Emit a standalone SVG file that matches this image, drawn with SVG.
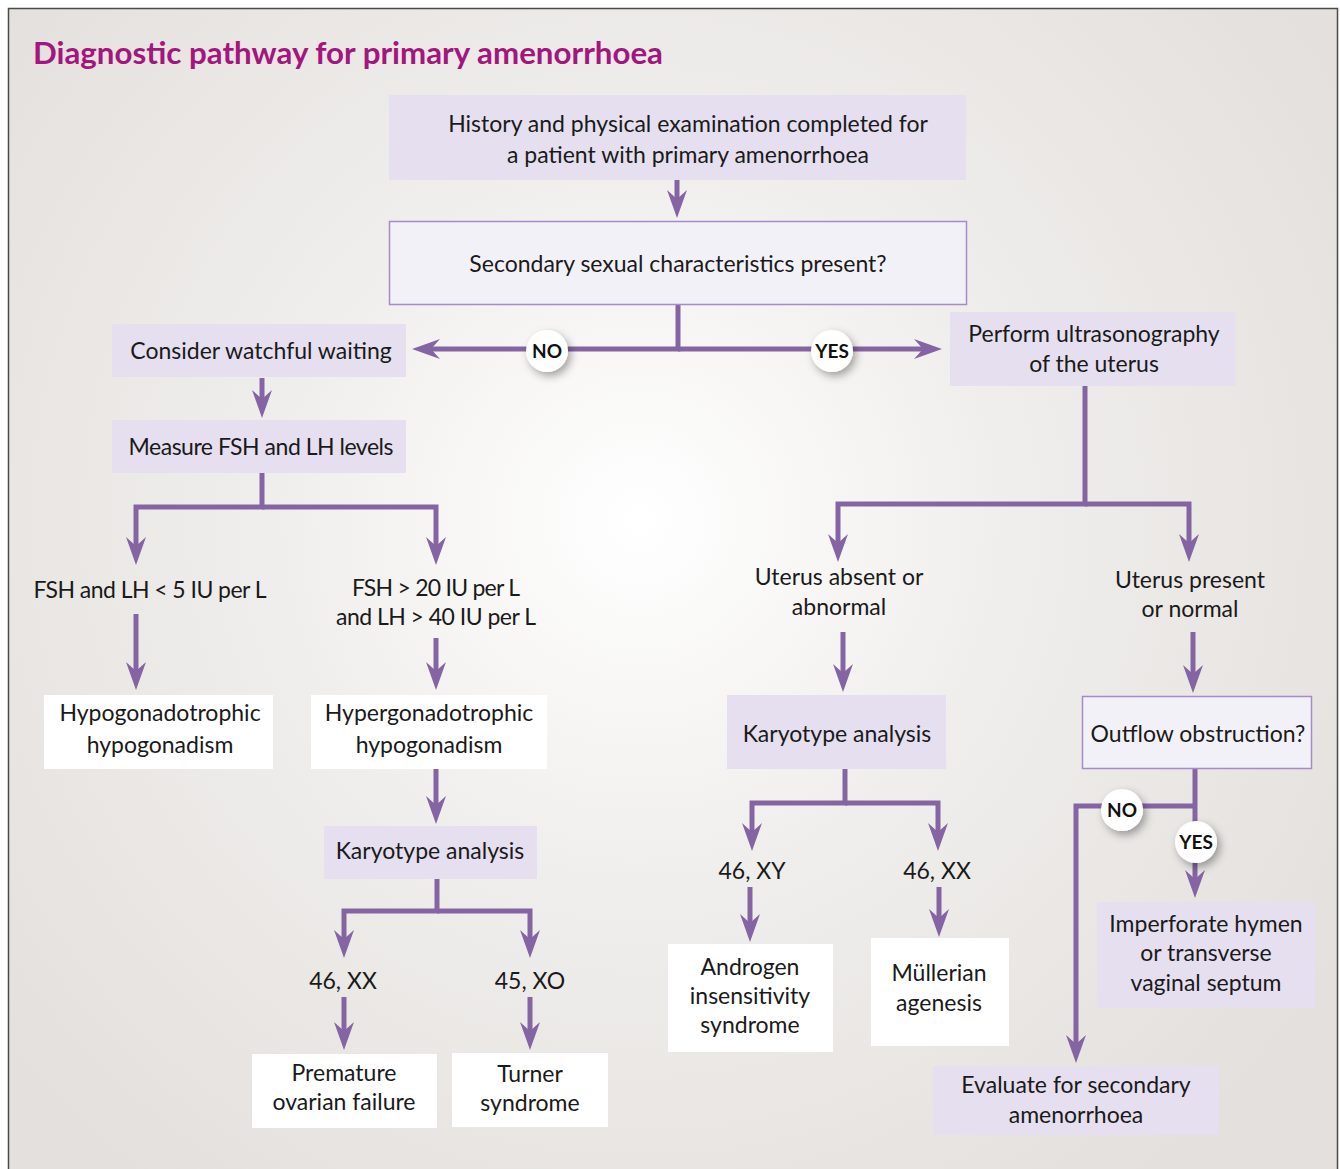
<svg xmlns="http://www.w3.org/2000/svg" width="1340" height="1169" viewBox="0 0 1340 1169">
<defs>
<radialGradient id="bg" gradientUnits="userSpaceOnUse" cx="640" cy="520" r="820">
<stop offset="0" stop-color="#ffffff"/>
<stop offset="0.45" stop-color="#f0eeec"/>
<stop offset="1" stop-color="#e3e0dd"/>
</radialGradient>
<marker id="ah" markerUnits="userSpaceOnUse" viewBox="0 0 28 20" markerWidth="28" markerHeight="20" refX="10" refY="10" orient="auto">
<path d="M0,0 L28,10 L0,20 L9,10 Z" fill="#8564a3"/>
</marker>
<filter id="sh" x="-50%" y="-50%" width="200%" height="200%">
<feDropShadow dx="3" dy="4" stdDeviation="4" flood-color="#000" flood-opacity="0.35"/>
</filter>
<style>
.t{font-family:Lato,"Open Sans","Liberation Sans",sans-serif;font-size:23px;fill:#1a1a1a;text-anchor:middle}
.lav{fill:#e5dff0}
.q{fill:#f3f1f8;stroke:#a78bc8;stroke-width:1.5}
.wh{fill:#ffffff}
.c{fill:none;stroke:#8564a3;stroke-width:5;marker-end:url(#ah)}
.yn{fill:#fff;filter:url(#sh)}
.ynt{font-family:Lato,"Open Sans","Liberation Sans",sans-serif;font-size:19px;font-weight:700;fill:#111;text-anchor:middle}
</style>
</defs>
<rect x="8.5" y="8.5" width="1329" height="1170" fill="url(#bg)" stroke="#4a4a4a" stroke-width="1.5"/>
<text x="33" y="64" font-family="Lato,'Open Sans','Liberation Sans',sans-serif" font-size="29.5" font-weight="700" fill="#a3167e" textLength="630" lengthAdjust="spacingAndGlyphs">Diagnostic pathway for primary amenorrhoea</text>

<g id="connectors">
<path class="c" d="M677,180 V200"/>
<path class="c" d="M678,305 V349 H430"/>
<path class="c" d="M678,349 H924"/>
<path class="c" d="M262,378 V400"/>
<path class="c" d="M262,473 V507 H136 V547"/>
<path class="c" d="M262,507 H436 V547"/>
<path class="c" d="M136,614 V672"/>
<path class="c" d="M436,638 V672"/>
<path class="c" d="M436,769 V806"/>
<path class="c" d="M437,879 V911 H344 V940"/>
<path class="c" d="M437,911 H530 V940"/>
<path class="c" d="M344,997 V1032"/>
<path class="c" d="M530,997 V1032"/>
<path class="c" d="M1085,386 V504 H838 V544"/>
<path class="c" d="M1085,504 H1189 V544"/>
<path class="c" d="M843,632 V674"/>
<path class="c" d="M1193,632 V675"/>
<path class="c" d="M845,769 V803 H752 V833"/>
<path class="c" d="M845,803 H938 V833"/>
<path class="c" d="M750,887 V924"/>
<path class="c" d="M939,887 V919"/>
<path class="c" d="M1195,768 V880"/>
<path class="c" d="M1195,806 H1076 V1045"/>
<g id="lbl-no1"><circle class="yn" cx="547" cy="351" r="21"/><text class="ynt" x="547" y="358">NO</text></g>
<g id="lbl-yes1"><circle class="yn" cx="832" cy="351" r="21"/><text class="ynt" x="832" y="358">YES</text></g>
<g id="lbl-no2"><circle class="yn" cx="1122" cy="810" r="21"/><text class="ynt" x="1122" y="817">NO</text></g>
<g id="lbl-yes2"><circle class="yn" cx="1196" cy="842" r="21"/><text class="ynt" x="1196" y="849">YES</text></g>
</g>

<g id="n-history"><rect class="lav" x="389" y="95" width="577" height="85"/>
<text class="t" x="688" y="132">History and physical examination completed for</text>
<text class="t" x="688" y="163">a patient with primary amenorrhoea</text></g>
<g id="n-secondary"><rect class="q" x="389.5" y="221.5" width="577" height="83"/>
<text class="t" x="678" y="272">Secondary sexual characteristics present?</text></g>
<g id="n-watch"><rect class="lav" x="112" y="324" width="294" height="53"/>
<text class="t" x="261" y="359">Consider watchful waiting</text></g>
<g id="n-measure"><rect class="lav" x="112" y="420" width="294" height="53"/>
<text class="t" x="261" y="455" textLength="265">Measure FSH and LH levels</text></g>
<g id="n-low"><text class="t" x="150" y="598" textLength="233">FSH and LH &lt; 5 IU per L</text></g>
<g id="n-high"><text class="t" x="436" y="596" textLength="168">FSH &gt; 20 IU per L</text>
<text class="t" x="436" y="625" textLength="200">and LH &gt; 40 IU per L</text></g>
<g id="n-hypo"><rect class="wh" x="44" y="695" width="229" height="74"/>
<text class="t" x="160" y="721">Hypogonadotrophic</text>
<text class="t" x="160" y="753">hypogonadism</text></g>
<g id="n-hyper"><rect class="wh" x="311" y="695" width="236" height="74"/>
<text class="t" x="429" y="721">Hypergonadotrophic</text>
<text class="t" x="429" y="753">hypogonadism</text></g>
<g id="n-kary1"><rect class="lav" x="324" y="826" width="213" height="53"/>
<text class="t" x="430" y="859">Karyotype analysis</text></g>
<g id="n-xx1"><text class="t" x="343" y="989">46, XX</text></g>
<g id="n-xo"><text class="t" x="530" y="989">45, XO</text></g>
<g id="n-pof"><rect class="wh" x="252" y="1054" width="185" height="74"/>
<text class="t" x="344" y="1081">Premature</text>
<text class="t" x="344" y="1110">ovarian failure</text></g>
<g id="n-turner"><rect class="wh" x="452" y="1053" width="156" height="74"/>
<text class="t" x="530" y="1082">Turner</text>
<text class="t" x="530" y="1111">syndrome</text></g>

<g id="n-us"><rect class="lav" x="950" y="312" width="285" height="74"/>
<text class="t" x="1094" y="342">Perform ultrasonography</text>
<text class="t" x="1094" y="372">of the uterus</text></g>
<g id="n-absent"><text class="t" x="839" y="585">Uterus absent or</text>
<text class="t" x="839" y="615">abnormal</text></g>
<g id="n-present"><text class="t" x="1190" y="588">Uterus present</text>
<text class="t" x="1190" y="617">or normal</text></g>
<g id="n-kary2"><rect class="lav" x="727" y="695" width="219" height="74"/>
<text class="t" x="837" y="742">Karyotype analysis</text></g>
<g id="n-outflow"><rect class="q" x="1082.5" y="696.5" width="229" height="72"/>
<text class="t" x="1198" y="742">Outflow obstruction?</text></g>
<g id="n-xy"><text class="t" x="752" y="879">46, XY</text></g>
<g id="n-xx2"><text class="t" x="937" y="879">46, XX</text></g>
<g id="n-ais"><rect class="wh" x="668" y="944" width="165" height="108"/>
<text class="t" x="750" y="975">Androgen</text>
<text class="t" x="750" y="1004">insensitivity</text>
<text class="t" x="750" y="1033">syndrome</text></g>
<g id="n-mull"><rect class="wh" x="871" y="938" width="138" height="108"/>
<text class="t" x="939" y="981">Müllerian</text>
<text class="t" x="939" y="1011">agenesis</text></g>
<g id="n-imperf"><rect class="lav" x="1097" y="902" width="218" height="106"/>
<text class="t" x="1206" y="932">Imperforate hymen</text>
<text class="t" x="1206" y="961">or transverse</text>
<text class="t" x="1206" y="991">vaginal septum</text></g>
<g id="n-eval"><rect class="lav" x="933" y="1066" width="286" height="69"/>
<text class="t" x="1076" y="1093">Evaluate for secondary</text>
<text class="t" x="1076" y="1123">amenorrhoea</text></g>
</svg>
